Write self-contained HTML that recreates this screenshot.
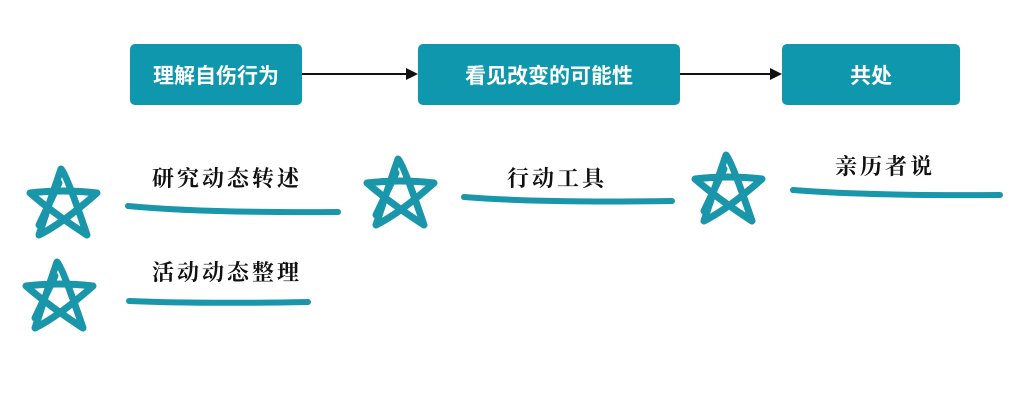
<!DOCTYPE html>
<html><head><meta charset="utf-8"><style>
body{margin:0;width:1024px;height:408px;background:#fff;overflow:hidden;position:relative;font-family:"Liberation Sans","Noto Sans CJK SC",sans-serif}
.box{position:absolute;background:#0e97ad;color:#fff;font-weight:bold;font-size:21px;display:flex;align-items:center;justify-content:center;border-radius:5px;top:44px;height:61px}
.lbl{position:absolute;font-size:22px;font-weight:bold;color:#111;letter-spacing:3px;font-family:"Noto Serif CJK SC","Noto Sans CJK SC",serif}
</style></head><body>
<div class="box" style="left:130px;width:172px">理解自伤行为</div>
<div class="box" style="left:418px;width:262px">看见改变的可能性</div>
<div class="box" style="left:782px;width:178px">共处</div>
<svg width="1024" height="408" style="position:absolute;left:0;top:0">
<defs><marker id="a" markerWidth="6" markerHeight="6" refX="5" refY="3" orient="auto"><path d="M0,0L6,3L0,6z" fill="#111"/></marker>
<g id="s"><path d="M-2,-34 Q3,-30 24,32 Q-10,10 -33,-10 Q0,-14 34,-10 Q0,20 -24,32 Q-12,-5 -2,-34 Z M-4,-20 L-24,22" fill="none" stroke="#1996aa" stroke-width="7" stroke-linejoin="round" stroke-linecap="round"/></g></defs>
<line x1="302" y1="74" x2="416" y2="74" stroke="#111" stroke-width="2" marker-end="url(#a)"/>
<line x1="680" y1="74" x2="780" y2="74" stroke="#111" stroke-width="2" marker-end="url(#a)"/>
<use href="#s" x="63" y="203"/>
<use href="#s" x="59" y="296"/>
<use href="#s" x="400" y="193"/>
<use href="#s" x="728" y="189"/>
<g stroke="#1996aa" stroke-width="6" stroke-linecap="round" fill="none">
<path d="M128,206 Q200,213 338,212"/>
<path d="M129,301 Q200,304 308,302"/>
<path d="M464,197 Q540,203 672,201"/>
<path d="M793,190 Q870,196 1000,195"/>
</g>
</svg>
<div class="lbl" style="left:152px;top:162px">研究动态转述</div>
<div class="lbl" style="left:152px;top:256px">活动动态整理</div>
<div class="lbl" style="left:507px;top:162px">行动工具</div>
<div class="lbl" style="left:835px;top:150px">亲历者说</div>
</body></html>
